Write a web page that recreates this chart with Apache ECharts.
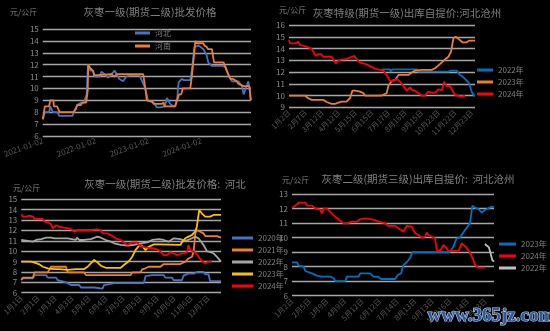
<!DOCTYPE html>
<html>
<head>
<meta charset="utf-8">
<script src="https://cdn.jsdelivr.net/npm/echarts@6/dist/echarts.min.js"></script>
<style>
html,body{margin:0;padding:0;background:#000;}
#chart{width:550px;height:331px;}
</style>
</head>
<body>
<div id="chart"></div>
<script>
// ---------- Chart 1: 灰枣一级(期货二级)批发价格 (x = year fraction) ----------
const c1Ticks = ['2021-01-02','2022-01-02','2023-01-02','2024-01-02'];
const c1Hebei = [[2021.00,7.4],[2021.03,7.5],[2021.04,8.0],[2021.12,8.0],[2021.14,8.5],[2021.17,8.5],[2021.19,8.0],[2021.28,8.0],[2021.31,7.7],[2021.56,7.7],[2021.62,8.3],[2021.65,8.6],[2021.72,8.8],[2021.78,8.8],[2021.83,9.5],[2021.855,12.0],[2021.90,11.5],[2021.95,11.5],[2021.99,11.0],[2022.08,11.0],[2022.11,11.4],[2022.17,11.2],[2022.24,10.9],[2022.30,11.2],[2022.36,11.5],[2022.45,10.8],[2022.52,10.6],[2022.58,11.0],[2022.64,11.1],[2022.83,11.1],[2022.86,11.0],[2022.94,10.0],[2022.99,9.0],[2023.10,8.8],[2023.16,8.4],[2023.22,8.4],[2023.25,8.3],[2023.31,8.5],[2023.35,9.2],[2023.41,8.7],[2023.47,8.5],[2023.51,8.5],[2023.54,9.0],[2023.57,10.5],[2023.63,10.8],[2023.67,10.7],[2023.79,10.7],[2023.82,11.5],[2023.87,13.5],[2023.95,13.6],[2024.04,13.3],[2024.10,12.8],[2024.13,12.2],[2024.20,11.9],[2024.40,11.9],[2024.46,11.8],[2024.52,11.0],[2024.58,10.6],[2024.70,10.6],[2024.77,10.2],[2024.80,9.5],[2024.84,10.0],[2024.86,10.0],[2024.89,10.6],[2024.91,10.0],[2024.937,9.0]];
const c1Henan = [[2021.00,7.4],[2021.03,7.5],[2021.04,8.5],[2021.12,8.5],[2021.14,9.0],[2021.20,9.0],[2021.21,8.5],[2021.27,8.5],[2021.29,8.3],[2021.32,8.0],[2021.58,8.0],[2021.63,8.3],[2021.65,8.6],[2021.72,8.6],[2021.75,8.8],[2021.82,8.8],[2021.85,9.8],[2021.86,12.0],[2021.90,11.7],[2021.95,11.5],[2021.97,11.1],[2022.00,11.2],[2022.30,11.2],[2022.35,11.0],[2022.40,11.2],[2022.90,11.2],[2022.91,11.1],[2022.94,10.0],[2022.97,9.0],[2023.07,8.9],[2023.10,8.7],[2023.25,8.7],[2023.29,8.8],[2023.30,8.5],[2023.50,8.5],[2023.54,9.0],[2023.58,9.5],[2023.62,9.5],[2023.65,10.0],[2023.79,10.0],[2023.82,11.0],[2023.855,12.5],[2023.887,14.0],[2023.91,13.8],[2024.04,13.8],[2024.06,13.6],[2024.10,13.5],[2024.13,13.3],[2024.20,13.3],[2024.24,12.2],[2024.42,12.2],[2024.48,11.5],[2024.55,10.8],[2024.60,10.8],[2024.67,10.6],[2024.70,10.4],[2024.80,10.2],[2024.91,10.2],[2024.937,9.0]];

// ---------- Chart 2: 灰枣特级(期货一级)出库自提价:河北沧州 (x = label position) ----------
const c2Ticks = ['1月2日','2月7日','3月12日','4月12日','5月15日','6月15日','7月17日','8月16日','9月15日','10月23日','11月22日','12月23日'];
const c2Y2022 = [[5.58,12.23],[6.08,12.23],[6.12,12.03],[6.22,12.23],[7.69,12.23],[7.79,12.03],[9.60,12.03],[9.76,12.12],[10.1,12.12],[10.24,11.83],[10.50,11.55],[10.70,11.27],[10.84,11.05],[11.0,10.33],[11.14,10.0],[11.2,10.0]];
const c2Y2023 = [[0,10.0],[0.96,10.0],[1.16,9.77],[1.37,9.63],[2.07,9.63],[2.27,9.45],[2.57,9.29],[2.77,9.29],[2.97,9.4],[3.17,9.48],[3.47,9.48],[3.67,9.77],[3.82,10.42],[3.98,10.42],[4.28,10.33],[4.48,10.2],[4.58,10.0],[5.58,10.0],[5.68,10.15],[5.88,10.2],[5.98,10.8],[6.18,11.24],[6.39,11.33],[6.59,11.75],[7.19,11.75],[7.39,11.95],[7.59,12.12],[7.99,12.18],[8.59,12.18],[8.80,12.32],[9.10,12.69],[9.40,13.08],[9.60,13.3],[9.76,13.73],[9.90,14.87],[10.04,15.0],[10.24,14.78],[10.44,14.53],[10.70,14.53],[10.84,14.67],[11.2,14.67]];
const c2Y2024 = [[0,14.73],[0.06,14.44],[0.36,14.44],[0.40,14.58],[0.56,14.58],[0.66,14.3],[0.76,14.16],[1.06,14.16],[1.16,14.1],[1.37,13.96],[1.47,13.96],[1.61,13.37],[1.77,13.53],[1.93,13.53],[2.07,13.3],[2.57,13.3],[2.67,13.16],[2.81,12.74],[2.97,12.97],[3.17,13.08],[3.37,13.08],[3.57,13.16],[3.78,13.3],[3.94,13.37],[4.08,13.08],[4.28,12.8],[4.58,12.7],[4.88,12.5],[5.18,12.3],[5.48,12.18],[5.68,12.12],[5.88,11.75],[6.08,11.24],[6.29,11.24],[6.49,11.4],[6.69,11.18],[6.89,10.8],[7.09,10.42],[7.29,10.7],[7.39,10.48],[7.59,10.42],[7.79,10.2],[7.99,10.0],[8.19,10.0],[8.39,10.33],[8.59,10.25],[8.80,10.25],[9.0,10.53],[9.20,10.47],[9.34,11.18],[9.50,10.8],[9.70,10.8],[9.80,10.7],[10.0,10.05],[10.2,9.97],[10.4,9.9],[10.6,10.0]];

// ---------- Chart 3: 灰枣一级(期货二级)批发价格：河北 ----------
const c3Ticks = ['1月1日','2月1日','3月3日','4月3日','5月4日','6月4日','7月5日','8月5日','9月5日','10月6日','11月6日','12月7日'];
const c3Y2020 = [[0,7.38],[0.68,7.38],[0.78,7.7],[1.46,7.7],[1.56,7.45],[2.05,7.45],[2.14,7.2],[2.44,7.1],[2.63,7.0],[2.92,6.74],[3.41,6.74],[3.51,6.5],[4.29,6.5],[4.39,6.4],[4.78,6.4],[4.87,6.74],[5.26,6.86],[5.46,6.93],[7.21,6.93],[7.31,7.6],[7.70,7.7],[8.38,7.7],[8.48,7.45],[8.87,7.45],[8.97,7.2],[9.45,7.2],[9.55,7.64],[9.84,7.83],[10.14,7.83],[10.33,8.0],[10.72,8.0],[10.82,7.77],[11.01,7.77],[11.11,7.12],[11.75,7.12]];
const c3Y2021 = [[0,7.2],[0.1,7.45],[0.68,7.45],[0.78,7.96],[1.56,7.96],[1.75,8.5],[2.63,8.5],[2.73,7.96],[3.70,7.96],[3.80,7.7],[6.43,7.7],[6.53,7.96],[7.02,7.96],[7.11,8.25],[7.31,8.35],[7.50,8.5],[8.19,8.5],[8.38,8.76],[9.36,8.76],[9.45,8.92],[9.65,8.98],[9.84,9.3],[10.04,9.47],[10.14,9.95],[10.23,11.56],[10.29,12.04],[10.53,11.88],[10.72,11.72],[10.82,11.46],[11.50,11.46],[11.75,11.3]];
const c3Y2022 = [[0,11.08],[0.1,10.92],[0.68,10.92],[0.88,11.08],[1.17,11.17],[1.46,11.3],[1.75,11.3],[1.95,11.24],[2.73,11.24],[3.22,11.08],[3.28,11.3],[3.41,11.08],[3.70,11.08],[4.09,11.17],[4.48,11.4],[4.68,11.3],[4.97,11.08],[5.26,10.92],[5.46,10.76],[5.85,10.6],[6.24,10.55],[6.63,10.6],[7.02,10.76],[7.41,10.85],[7.70,11.08],[8.09,11.17],[8.38,11.08],[8.67,10.92],[8.97,11.24],[9.36,11.17],[9.65,10.98],[9.94,11.17],[10.23,11.4],[10.43,11.24],[10.72,10.6],[10.92,10.0],[11.31,9.8],[11.50,9.47],[11.75,8.99]];
const c3Y2023 = [[0,9.0],[0.58,9.0],[0.78,8.9],[1.07,8.73],[1.27,8.5],[1.56,8.35],[1.95,8.28],[2.24,8.28],[2.73,8.2],[3.22,8.28],[3.70,8.28],[3.90,8.5],[4.09,8.83],[4.29,9.15],[4.48,8.92],[4.68,8.6],[4.97,8.4],[5.85,8.4],[6.04,8.67],[6.34,9.05],[6.53,9.47],[6.72,10.1],[6.92,10.53],[7.11,10.53],[7.31,10.1],[7.50,10.43],[7.80,10.66],[8.09,10.66],[8.19,10.6],[9.36,10.6],[9.45,10.85],[9.65,11.24],[9.84,11.4],[10.04,11.56],[10.23,11.88],[10.33,12.36],[10.47,13.97],[10.62,13.65],[10.82,13.33],[11.11,13.33],[11.31,13.49],[11.75,13.49]];
const c3Y2024 = [[0,13.55],[0.1,13.33],[0.29,13.33],[0.49,13.43],[0.68,13.33],[0.78,13.1],[1.27,13.1],[1.36,12.85],[1.56,12.78],[1.75,12.6],[1.85,12.2],[2.05,12.5],[2.24,12.37],[2.53,12.27],[2.92,12.14],[3.12,11.88],[3.31,12.04],[4.09,12.04],[4.48,12.1],[4.68,12.04],[4.78,11.72],[5.07,11.72],[5.26,11.56],[5.56,11.24],[5.85,11.08],[6.04,10.85],[6.24,10.6],[6.53,10.85],[6.82,10.85],[6.92,10.6],[7.11,10.43],[7.41,10.34],[7.80,10.27],[8.09,10.1],[8.19,10.2],[8.38,9.63],[8.58,9.63],[8.77,9.9],[8.97,9.8],[9.16,9.63],[9.36,9.73],[9.55,9.8],[9.75,9.9],[9.84,10.6],[9.94,10.1],[10.04,10.1],[10.23,9.9],[10.43,9.47],[10.62,9.05],[10.82,8.83],[11.01,9.0],[11.21,9.0]];

// ---------- Chart 4: 灰枣二级(期货三级)出库自提价：河北沧州 ----------
const c4Ticks = ['1月2日','2月5日','3月9日','4月9日','5月12日','6月12日','7月14日','8月13日','9月13日','10月16日','11月14日','12月13日'];
const c4Y2023 = [[0,8.3],[0.28,8.3],[0.38,8.07],[0.66,8.0],[0.76,7.7],[1.14,7.54],[1.42,7.38],[1.70,7.31],[2.18,7.31],[2.37,7.2],[2.46,7.0],[3.03,7.0],[3.13,7.31],[3.79,7.31],[3.88,7.54],[4.17,7.54],[4.26,7.6],[4.45,7.54],[4.64,7.31],[4.92,7.29],[5.08,7.15],[5.87,7.15],[6.02,7.42],[6.21,7.54],[6.34,8.1],[6.53,8.3],[6.72,8.6],[6.86,9.0],[8.99,9.0],[9.19,9.38],[9.37,9.95],[9.56,10.0],[9.85,10.52],[10.13,10.98],[10.27,12.2],[10.42,12.06],[10.61,11.97],[10.80,11.72],[10.98,11.9],[11.17,12.0],[11.36,12.13],[11.5,12.08]];
const c4Y2024 = [[0,12.06],[0.19,12.2],[0.38,12.4],[0.76,12.4],[0.85,12.2],[1.14,12.2],[1.33,12.0],[1.61,11.93],[1.70,11.67],[1.80,12.0],[1.99,12.0],[2.18,11.77],[2.37,11.55],[2.56,11.33],[2.94,10.98],[3.13,10.98],[3.41,11.1],[3.69,11.1],[3.88,11.26],[4.17,11.33],[4.36,11.29],[4.73,11.2],[4.92,11.1],[5.30,11.0],[5.49,10.8],[5.87,10.8],[6.06,10.65],[6.34,10.42],[6.53,10.8],[6.82,10.76],[7.01,10.3],[7.20,10.18],[7.39,10.0],[7.58,10.07],[7.67,10.34],[7.77,10.18],[8.14,9.95],[8.24,9.15],[8.43,9.08],[8.62,9.5],[8.81,9.27],[8.90,9.08],[9.28,9.08],[9.47,9.04],[9.66,9.6],[9.94,9.3],[10.13,8.98],[10.32,8.46],[10.42,8.11],[10.61,7.93],[10.98,7.93]];
const c4Y2022 = [[10.98,9.56],[11.21,9.33],[11.33,8.8],[11.40,8.46],[11.5,8.35]];

const chart = echarts.init(document.getElementById('chart'), null, {renderer:'canvas'});
const FONT = '"Microsoft YaHei","Noto Sans CJK SC",sans-serif';
const gridColor = '#a6a6a6';
const yLabel = {color:'#8c8c8c', fontSize:8, fontFamily:FONT, margin:4};
function xLabel(ticks, rot){
  return {color:'#595959', fontSize:7.5, fontFamily:FONT, rotate:rot, margin:4, interval:0,
    showMaxLabel:false,
    formatter:function(v){ const i=Math.round(v); return Math.abs(v-i)<1e-6 && ticks[i]!==undefined ? ticks[i] : ''; }};
}
function xAxis(idx, min, max, ticks, rot){
  return {type:'value', gridIndex:idx, min:min, max:max, interval:1,
    axisLine:{show:false}, axisTick:{show:false}, splitLine:{show:false},
    axisLabel:xLabel(ticks, rot)};
}
function yAxis(idx, min, max){
  return {type:'value', gridIndex:idx, min:min, max:max, interval:1,
    axisLine:{show:false}, axisTick:{show:false},
    splitLine:{lineStyle:{color:gridColor, width:1.3}}, axisLabel:yLabel};
}
function line(name, idx, data, color){
  return {name:name, type:'line', xAxisIndex:idx, yAxisIndex:idx, data:data, symbol:'none',
    lineStyle:{color:color, width:1.8}, itemStyle:{color:color}, animation:false};
}
const titleStyle = {color:'#808080', fontSize:10.5, fontWeight:'normal', fontFamily:FONT};
const unitStyle = {color:'#808080', fontSize:8, fontWeight:'normal', fontFamily:FONT};
const legText = {color:'#808080', fontSize:8, fontFamily:FONT, lineHeight:10};

const c1Axis = {type:'value', gridIndex:0, min:2021, max:2024.94, interval:1,
  axisLine:{show:false}, axisTick:{show:false}, splitLine:{show:false},
  axisLabel:{color:'#595959', fontSize:8, fontFamily:FONT, rotate:20, margin:4, showMaxLabel:false,
    formatter:function(v){ const i=Math.round(v-2021); return Math.abs(v-2021-i)<1e-6 && c1Ticks[i]? c1Ticks[i] : ''; }}};

function T(text, left, top, style, center){
  const o = {text:text, left:left, top:top, padding:0, textStyle:style};
  if (center) o.textAlign = 'center';
  return o;
}
function L(names, left, top, w){
  return {data:names, orient:'vertical', left:left, top:top, padding:0, itemWidth:w, itemHeight:3,
    itemGap:2, icon:'rect', textStyle:legText};
}

chart.setOption({
  backgroundColor:'#000',
  animation:false,
  title:[
    T('灰枣一级(期货二级)批发价格', 150, 7, titleStyle, true),
    T('元/公斤', 10, 8, unitStyle),
    T('灰枣特级(期货一级)出库自提价:河北沧州', 407, 8, titleStyle, true),
    T('元/公斤', 279, 6, unitStyle),
    T('灰枣一级(期货二级)批发价格:  河北', 165, 179, titleStyle, true),
    T('元/公斤', 13, 184, unitStyle),
    T('灰枣二级(期货三级)出库自提价:  河北沧州', 418, 174, titleStyle, true),
    T('元/公斤', 282, 176, unitStyle)
  ],
  grid:[
    {left:42, top:29, width:209, height:107},
    {left:289, top:25, width:186, height:82.3},
    {left:20, top:199.3, width:201, height:93.4},
    {left:292, top:194, width:202, height:101.7}
  ],
  xAxis:[
    c1Axis,
    xAxis(1, 0, 11.2, c2Ticks, 45),
    xAxis(2, 0, 11.75, c3Ticks, 45),
    xAxis(3, 0, 11.5, c4Ticks, 45)
  ],
  yAxis:[yAxis(0,6,15), yAxis(1,9,16), yAxis(2,6,15), yAxis(3,6,13)],
  legend:[
    Object.assign(L(['河北','河南'], 135, 28, 15), {itemGap:3}),
    L(['2022年','2023年','2024年'], 477, 65, 16),
    L(['2020年','2021年','2022年 ','2023年 ','2024年 '], 232, 233, 21),
    L(['2023年  ','2024年  ','2022年  '], 499, 239, 17)
  ],
  graphic:[
    {type:'text', left:427, top:306, z:100, style:{text:'www.365jz.com', fill:'#2a5aa0', stroke:'#c8d0e0', lineWidth:1.2,
      font:'bold 19px "Liberation Serif", serif'}}
  ],
  series:[
    line('河北',0,c1Hebei,'#4472c4'),
    line('河南',0,c1Henan,'#ed7d31'),
    line('2022年',1,c2Y2022,'#0070c0'),
    line('2023年',1,c2Y2023,'#ed7d31'),
    line('2024年',1,c2Y2024,'#ff0000'),
    line('2020年',2,c3Y2020,'#4472c4'),
    line('2021年',2,c3Y2021,'#ed7d31'),
    line('2022年 ',2,c3Y2022,'#a5a5a5'),
    line('2023年 ',2,c3Y2023,'#ffc000'),
    line('2024年 ',2,c3Y2024,'#ff0000'),
    line('2023年  ',3,c4Y2023,'#0070c0'),
    line('2024年  ',3,c4Y2024,'#ff0000'),
    line('2022年  ',3,c4Y2022,'#bfbfbf')
  ]
});
</script>
</body>
</html>
